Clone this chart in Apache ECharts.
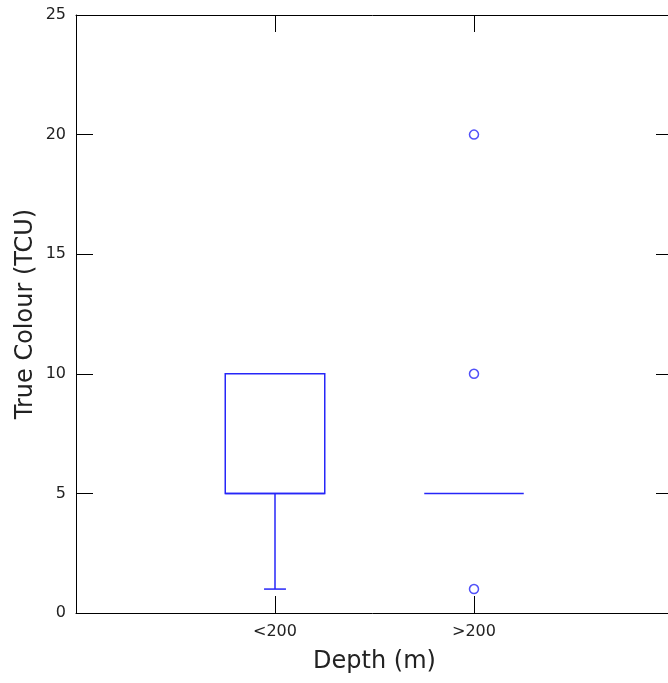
<!DOCTYPE html>
<html>
<head>
<meta charset="utf-8">
<script src="https://cdn.jsdelivr.net/npm/echarts@6/dist/echarts.min.js"></script>
<style>html,body{margin:0;padding:0;background:#fff;}#c{width:668px;height:683px;}</style>
</head>
<body>
<div id="c"></div>
<script>
// Categories (empty ends give the padding slots on the x axis)
var categories = ['', '<200', '>200', ''];
// Box statistics per group: [min, Q1, median, Q3, max]
var boxGroups = ['<200', '>200'];
var boxStats = [
  [1, 5, 5, 10, 10],
  [5, 5, 5, 5, 5]
];
// Outliers: [group, value]
var outlierGroups = ['>200', '>200', '>200'];
var outlierValues = [1, 10, 20];
var yTicks = [0, 5, 10, 15, 20, 25];

var BLUE = '#2626f8';
var boxData = boxGroups.map(function (g, i) {
  return [categories.indexOf(g)].concat(boxStats[i]);
});
var outlierData = outlierGroups.map(function (g, i) {
  return [categories.indexOf(g), outlierValues[i]];
});

var chart = echarts.init(document.getElementById('c'), null, {renderer: 'canvas'});
var tickShow = function (idx) { return idx === 1 || idx === 2; };
var axisLineStyle = {color: '#000', width: 1};
var font = 'DejaVu Sans, Verdana, sans-serif';

chart.setOption({
  animation: false,
  backgroundColor: '#fff',
  grid: {left: 76, top: 15, width: 597, height: 598, outerBoundsMode: 'none', containLabel: false},
  xAxis: [{
    type: 'category', data: categories, boundaryGap: false, position: 'bottom',
    name: 'Depth (m)', nameLocation: 'middle', nameGap: 37, nameMoveOverlap: false,
    nameTextStyle: {fontFamily: font, fontSize: 24, color: '#222'},
    axisLine: {onZero: false, lineStyle: axisLineStyle},
    axisTick: {inside: true, length: 17, interval: function (i) { return tickShow(i); }, lineStyle: axisLineStyle},
    axisLabel: {interval: function (i) { return tickShow(i); }, margin: 11, fontFamily: font, fontSize: 16, color: '#222'},
    splitLine: {show: false}
  }, {
    type: 'category', data: categories, boundaryGap: false, position: 'top',
    axisLine: {onZero: false, lineStyle: axisLineStyle},
    axisTick: {inside: true, length: 17, interval: function (i) { return tickShow(i); }, lineStyle: axisLineStyle},
    axisLabel: {show: false}, splitLine: {show: false}
  }],
  yAxis: [{
    type: 'value', min: yTicks[0], max: yTicks[yTicks.length - 1], interval: 5, position: 'left',
    name: 'True Colour (TCU)', nameLocation: 'middle', nameGap: 38, nameMoveOverlap: false,
    nameTextStyle: {fontFamily: font, fontSize: 24, color: '#222'},
    axisLine: {show: true, onZero: false, lineStyle: axisLineStyle},
    axisTick: {show: true, inside: true, length: 17, lineStyle: axisLineStyle},
    axisLabel: {margin: 10, fontFamily: font, fontSize: 16, color: '#222'},
    splitLine: {show: false}
  }, {
    type: 'value', min: yTicks[0], max: yTicks[yTicks.length - 1], interval: 5, position: 'right',
    axisLine: {show: true, onZero: false, lineStyle: axisLineStyle},
    axisTick: {show: true, inside: true, length: 17, lineStyle: axisLineStyle},
    axisLabel: {show: false}, splitLine: {show: false}
  }],
  series: [{
    type: 'custom',
    xAxisIndex: 0, yAxisIndex: 0,
    data: boxData,
    renderItem: function (params, api) {
      var x = api.value(0);
      var mn = api.value(1), q1 = api.value(2), med = api.value(3), q3 = api.value(4), mx = api.value(5);
      var unit = api.size([1, 0])[0];
      var half = unit * 0.25;
      var cap = unit * 0.055;
      var pQ1 = api.coord([x, q1]), pQ3 = api.coord([x, q3]);
      var pMed = api.coord([x, med]), pMin = api.coord([x, mn]), pMax = api.coord([x, mx]);
      var cx = pQ1[0];
      var style = {stroke: BLUE, lineWidth: 1.5, fill: null};
      var children = [];
      if (q3 > q1) {
        children.push({type: 'rect', shape: {x: cx - half, y: pQ3[1], width: half * 2, height: pQ1[1] - pQ3[1]}, style: style});
      }
      children.push({type: 'line', shape: {x1: cx - half, y1: pMed[1], x2: cx + half, y2: pMed[1]}, style: style});
      if (mn < q1) {
        children.push({type: 'line', shape: {x1: cx, y1: pQ1[1], x2: cx, y2: pMin[1]}, style: style});
        children.push({type: 'line', shape: {x1: cx - cap, y1: pMin[1], x2: cx + cap, y2: pMin[1]}, style: style});
      }
      if (mx > q3) {
        children.push({type: 'line', shape: {x1: cx, y1: pQ3[1], x2: cx, y2: pMax[1]}, style: style});
        children.push({type: 'line', shape: {x1: cx - cap, y1: pMax[1], x2: cx + cap, y2: pMax[1]}, style: style});
      }
      return {type: 'group', children: children};
    }
  }, {
    type: 'scatter',
    xAxisIndex: 0, yAxisIndex: 0,
    data: outlierData,
    symbol: 'circle', symbolSize: 9,
    itemStyle: {color: 'rgba(0,0,0,0)', borderColor: BLUE, borderWidth: 1.5}
  }]
});
</script>
</body>
</html>
